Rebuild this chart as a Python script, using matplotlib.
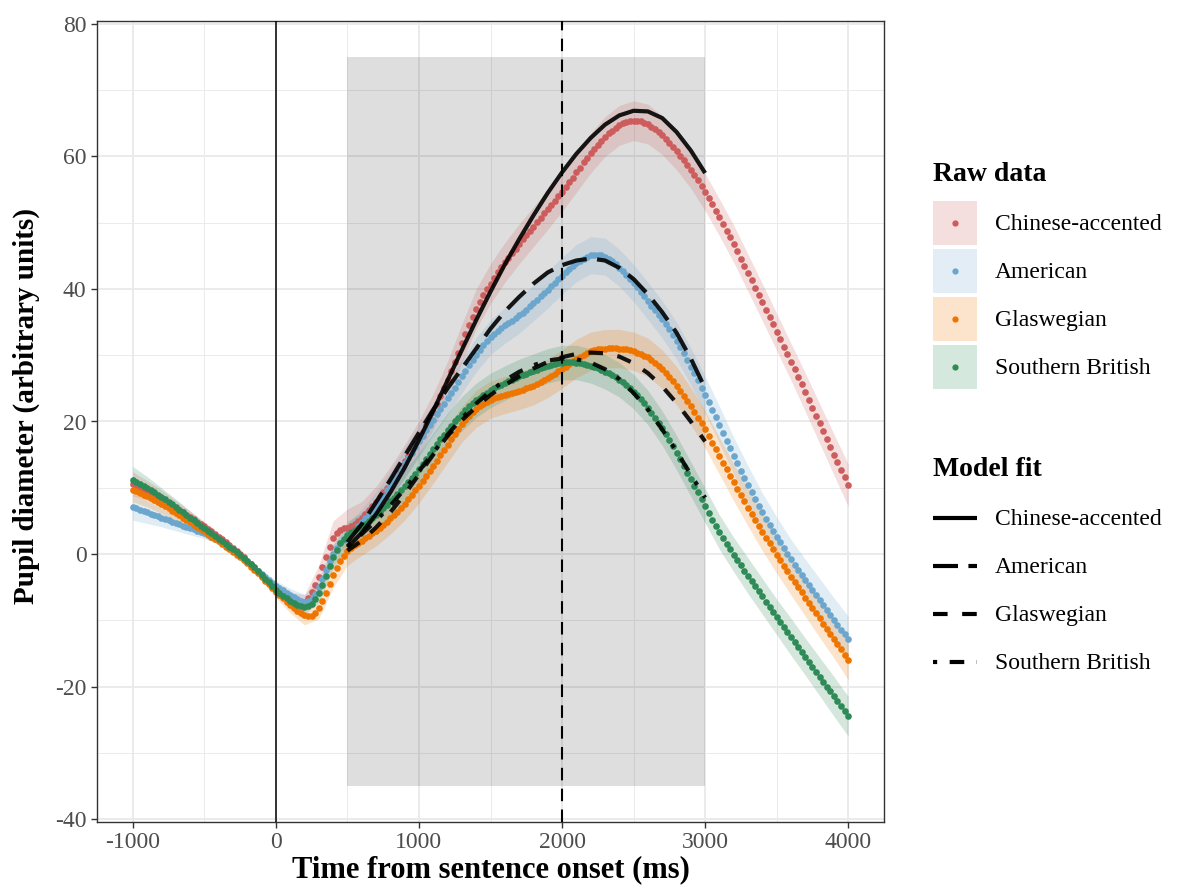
import numpy as np
import matplotlib
matplotlib.use('Agg')
import matplotlib.pyplot as plt
import matplotlib.colors as mcolors
from matplotlib.lines import Line2D
from matplotlib.patches import Rectangle
from matplotlib.legend_handler import HandlerBase

# Raw pupil traces, sampled every 25 ms from -1000 to 4000 ms (one row = 200 ms)
time_ms = np.arange(-1000, 4001, 25)

chinese = [10.6, 10.35, 10.1, 9.85, 9.6, 9.3, 9.0, 8.7,
           8.4, 8.05, 7.7, 7.35, 7.0, 6.65, 6.3, 5.95,
           5.6, 5.25, 4.9, 4.55, 4.2, 3.8, 3.4, 3.0,
           2.6, 2.2, 1.8, 1.35, 0.9, 0.45, 0.0, -0.5,
           -1.0, -1.5, -2.0, -2.55, -3.1, -3.7, -4.3, -4.85,
           -5.4, -5.8, -6.2, -6.5, -6.8, -7.05, -7.3, -7.4,
           -7.3, -6.7, -5.8, -4.7, -3.5, -2.0, -0.4, 1.1,
           2.4, 3.2, 3.6, 3.85, 4.0, 4.25, 4.6, 5.0,
           5.5, 6.0, 6.6, 7.2, 7.9, 8.6, 9.3, 10.0,
           10.8, 11.6, 12.4, 13.2, 14.0, 14.8, 15.7, 16.6,
           17.5, 18.4, 19.4, 20.4, 21.5, 22.6, 23.8, 25.0,
           26.3, 27.6, 29.0, 30.4, 31.8, 33.2, 34.5, 35.8,
           37.0, 38.1, 39.1, 40.0, 40.8, 41.7, 42.5, 43.3,
           44.0, 44.7, 45.4, 46.1, 46.8, 47.5, 48.1, 48.8,
           49.4, 50.1, 50.7, 51.4, 52.0, 52.7, 53.3, 54.0,
           54.7, 55.4, 56.1, 56.8, 57.6, 58.3, 59.1, 59.8,
           60.5, 61.2, 61.8, 62.4, 63.0, 63.5, 63.9, 64.3,
           64.7, 65.0, 65.2, 65.3, 65.4, 65.4, 65.3, 65.1,
           64.9, 64.5, 64.1, 63.7, 63.2, 62.6, 62.0, 61.4,
           60.8, 60.1, 59.4, 58.7, 58.0, 57.2, 56.4, 55.5,
           54.6, 53.7, 52.8, 51.8, 50.8, 49.8, 48.8, 47.8,
           46.8, 45.7, 44.6, 43.5, 42.4, 41.3, 40.2, 39.1,
           38.0, 36.9, 35.8, 34.7, 33.5, 32.4, 31.3, 30.2,
           29.0, 27.9, 26.7, 25.6, 24.4, 23.2, 22.0, 20.9,
           19.7, 18.6, 17.4, 16.2, 15.0, 13.9, 12.7, 11.6,
           10.4]

american = [7.1, 6.9, 6.7, 6.5, 6.3, 6.1, 5.9, 5.7,
            5.5, 5.3, 5.1, 4.9, 4.7, 4.5, 4.3, 4.1,
            3.9, 3.7, 3.5, 3.3, 3.1, 2.85, 2.6, 2.3,
            2.0, 1.7, 1.4, 1.0, 0.6, 0.15, -0.3, -0.75,
            -1.2, -1.65, -2.1, -2.55, -3.0, -3.45, -3.9, -4.35,
            -4.8, -5.15, -5.5, -5.85, -6.2, -6.5, -6.8, -7.05,
            -7.2, -7.1, -6.8, -6.0, -5.0, -3.7, -2.4, -1.1,
            0.0, 0.9, 1.6, 2.15, 2.6, 3.1, 3.6, 4.2,
            4.8, 5.4, 6.0, 6.65, 7.3, 8.05, 8.8, 9.6,
            10.4, 11.2, 12.0, 12.85, 13.7, 14.5, 15.3, 16.15,
            17.0, 17.85, 18.7, 19.5, 20.3, 21.1, 21.9, 22.7,
            23.5, 24.3, 25.1, 25.95, 26.8, 27.65, 28.5, 29.3,
            30.1, 30.8, 31.5, 32.1, 32.7, 33.2, 33.7, 34.1,
            34.5, 34.85, 35.2, 35.6, 36.0, 36.45, 36.9, 37.4,
            37.9, 38.4, 38.9, 39.4, 39.9, 40.4, 40.9, 41.45,
            42.0, 42.5, 43.0, 43.45, 43.9, 44.25, 44.6, 44.9,
            45.1, 45.2, 45.2, 45.1, 44.9, 44.6, 44.2, 43.7,
            43.2, 42.65, 42.1, 41.5, 40.9, 40.25, 39.6, 38.9,
            38.2, 37.5, 36.8, 36.1, 35.4, 34.65, 33.9, 33.05,
            32.2, 31.25, 30.3, 29.3, 28.3, 27.25, 26.2, 25.1,
            24.0, 22.9, 21.8, 20.65, 19.5, 18.3, 17.1, 15.95,
            14.8, 13.7, 12.6, 11.5, 10.4, 9.35, 8.3, 7.3,
            6.3, 5.35, 4.4, 3.5, 2.6, 1.75, 0.9, 0.05,
            -0.8, -1.6, -2.4, -3.15, -3.9, -4.65, -5.4, -6.15,
            -6.9, -7.65, -8.4, -9.15, -9.9, -10.65, -11.4, -12.1,
            -12.8]

glaswegian = [9.7, 9.45, 9.2, 8.95, 8.7, 8.4, 8.1, 7.8,
              7.5, 7.2, 6.9, 6.55, 6.2, 5.85, 5.5, 5.15,
              4.8, 4.45, 4.1, 3.75, 3.4, 3.0, 2.6, 2.25,
              1.9, 1.5, 1.1, 0.7, 0.3, -0.1, -0.5, -0.95,
              -1.4, -1.9, -2.4, -2.9, -3.4, -4.0, -4.6, -5.15,
              -5.7, -6.2, -6.7, -7.2, -7.7, -8.15, -8.6, -8.95,
              -9.2, -9.35, -9.3, -8.9, -8.1, -7.1, -5.9, -4.5,
              -3.2, -2.1, -1.1, -0.3, 0.4, 0.9, 1.3, 1.65,
              2.0, 2.35, 2.7, 3.1, 3.5, 3.95, 4.4, 4.9,
              5.4, 5.9, 6.4, 7.0, 7.6, 8.25, 8.9, 9.6,
              10.3, 11.05, 11.8, 12.55, 13.3, 14.1, 14.9, 15.7,
              16.5, 17.3, 18.1, 18.85, 19.6, 20.3, 20.9, 21.45,
              21.9, 22.3, 22.7, 23.0, 23.3, 23.5, 23.7, 23.85,
              24.0, 24.15, 24.3, 24.45, 24.6, 24.8, 25.0, 25.2,
              25.4, 25.65, 25.9, 26.2, 26.5, 26.85, 27.2, 27.55,
              27.9, 28.3, 28.7, 29.1, 29.5, 29.8, 30.1, 30.4,
              30.6, 30.75, 30.9, 30.95, 31.0, 31.05, 31.1, 31.05,
              31.0, 30.95, 30.9, 30.75, 30.6, 30.4, 30.2, 29.95,
              29.7, 29.3, 28.9, 28.4, 27.9, 27.3, 26.7, 26.05,
              25.4, 24.65, 23.9, 23.1, 22.3, 21.45, 20.6, 19.7,
              18.8, 17.8, 16.8, 15.8, 14.8, 13.8, 12.8, 11.8,
              10.8, 9.85, 8.9, 7.95, 7.0, 6.05, 5.1, 4.2,
              3.3, 2.45, 1.6, 0.75, -0.1, -0.95, -1.8, -2.6,
              -3.4, -4.2, -5.0, -5.8, -6.6, -7.4, -8.2, -8.95,
              -9.7, -10.5, -11.3, -12.05, -12.8, -13.6, -14.4, -15.2,
              -16.0]

southern = [11.2, 10.9, 10.6, 10.3, 10.0, 9.65, 9.3, 8.95,
            8.6, 8.25, 7.9, 7.5, 7.1, 6.7, 6.3, 5.9,
            5.5, 5.1, 4.7, 4.3, 3.9, 3.5, 3.1, 2.7,
            2.3, 1.9, 1.5, 1.1, 0.7, 0.3, -0.1, -0.55,
            -1.0, -1.5, -2.0, -2.55, -3.1, -3.7, -4.3, -4.85,
            -5.4, -5.85, -6.3, -6.7, -7.1, -7.4, -7.7, -7.9,
            -8.0, -7.9, -7.5, -6.8, -5.9, -4.7, -3.3, -1.8,
            -0.5, 0.6, 1.6, 2.3, 2.9, 3.3, 3.6, 3.9,
            4.2, 4.6, 5.0, 5.45, 5.9, 6.4, 6.9, 7.45,
            8.0, 8.5, 9.0, 9.6, 10.2, 10.85, 11.5, 12.15,
            12.8, 13.55, 14.3, 15.05, 15.8, 16.55, 17.3, 18.0,
            18.7, 19.35, 20.0, 20.6, 21.2, 21.75, 22.3, 22.75,
            23.2, 23.6, 24.0, 24.35, 24.7, 25.0, 25.3, 25.55,
            25.8, 26.05, 26.3, 26.55, 26.8, 27.0, 27.2, 27.4,
            27.6, 27.8, 28.0, 28.2, 28.4, 28.55, 28.7, 28.8,
            28.9, 28.95, 29.0, 28.95, 28.9, 28.8, 28.7, 28.55,
            28.4, 28.2, 28.0, 27.75, 27.5, 27.25, 27.0, 26.65,
            26.3, 25.9, 25.5, 25.0, 24.5, 23.95, 23.4, 22.75,
            22.1, 21.35, 20.6, 19.8, 19.0, 18.1, 17.2, 16.25,
            15.3, 14.3, 13.3, 12.3, 11.3, 10.3, 9.3, 8.3,
            7.3, 6.2, 5.1, 4.2, 3.3, 2.4, 1.5, 0.7,
            -0.1, -0.9, -1.7, -2.5, -3.3, -4.1, -4.9, -5.65,
            -6.4, -7.2, -7.95, -8.75, -9.5, -10.25, -11.0, -11.75,
            -12.5, -13.25, -14.0, -14.75, -15.5, -16.25, -17.0, -17.75,
            -18.5, -19.25, -20.0, -20.75, -21.5, -22.25, -23.0, -23.75,
            -24.5]

# Ribbon half-widths, every 100 ms from -1000 to 4000 ms
chinese_se = [1.8, 1.5, 1.3, 1.1, 0.9, 0.7, 0.5, 0.3, 0.4, 0.6, 0.8, 1.0, 1.2, 1.8, 2.6, 2.8, 2.4,
              2.3, 2.4, 2.5, 2.6, 2.7, 2.8, 2.9, 3.0, 3.0, 3.0, 3.0, 3.0, 3.0, 3.0, 3.0, 3.0, 3.0,
              3.0, 3.0, 3.0, 2.9, 2.8, 2.8, 2.8, 2.8, 2.8, 2.8, 2.8, 2.8, 2.8, 2.9, 3.0, 3.1, 3.2]
american_se = [2.0, 1.7, 1.4, 1.2, 1.0, 0.8, 0.5, 0.3, 0.4, 0.6, 0.8, 1.0, 1.1, 1.3, 1.6, 1.8, 2.0,
               2.1, 2.2, 2.3, 2.4, 2.4, 2.5, 2.5, 2.6, 2.6, 2.7, 2.7, 2.7, 2.8, 2.8, 2.8, 2.8, 2.8,
               2.8, 2.8, 2.8, 2.8, 2.8, 2.8, 2.8, 2.8, 2.8, 2.9, 2.9, 3.0, 3.0, 3.1, 3.2, 3.3, 3.4]
glaswegian_se = [1.8, 1.6, 1.4, 1.2, 1.0, 0.8, 0.5, 0.3, 0.4, 0.6, 0.9, 1.2, 1.5, 1.7, 1.9, 2.1, 2.2,
                 2.3, 2.4, 2.5, 2.6, 2.6, 2.7, 2.7, 2.8, 2.8, 2.8, 2.8, 2.9, 2.9, 2.9, 2.9, 2.9, 2.9,
                 2.9, 2.9, 2.9, 2.9, 2.9, 2.8, 2.8, 2.8, 2.8, 2.8, 2.8, 2.8, 2.8, 2.8, 2.9, 2.9, 3.0]
southern_se = [2.0, 1.7, 1.4, 1.2, 1.0, 0.8, 0.5, 0.3, 0.4, 0.6, 0.8, 1.0, 1.1, 1.4, 1.8, 2.0, 2.1,
               2.2, 2.3, 2.4, 2.5, 2.5, 2.6, 2.6, 2.6, 2.6, 2.6, 2.6, 2.6, 2.6, 2.6, 2.6, 2.6, 2.6,
               2.6, 2.6, 2.6, 2.6, 2.6, 2.6, 2.6, 2.6, 2.6, 2.7, 2.7, 2.7, 2.8, 2.8, 2.9, 3.0, 3.0]

# Model fits, every 100 ms from 500 to 3000 ms
fit_time = np.arange(500, 3001, 100)
fit_chinese = [1.0, 3.2, 6.0, 9.3, 13.0, 17.2, 21.6, 26.2, 30.8, 35.3, 39.6, 43.7, 47.5, 51.1,
               54.5, 57.6, 60.4, 62.8, 64.8, 66.2, 66.9, 66.8, 65.8, 63.7, 60.9, 57.5]
fit_american = [1.8, 4.5, 7.8, 11.2, 14.8, 18.3, 21.8, 25.0, 28.0, 31.0, 34.0, 36.6, 38.8, 40.8,
                42.5, 43.6, 44.3, 44.6, 44.3, 43.2, 41.5, 39.2, 36.5, 33.4, 29.5, 25.0]
fit_glaswegian = [0.5, 2.0, 4.0, 6.3, 9.0, 12.0, 15.0, 17.8, 20.2, 22.2, 24.0, 25.5, 26.8, 28.0,
                  29.0, 29.7, 30.2, 30.4, 30.3, 29.8, 28.8, 27.3, 25.3, 22.8, 20.0, 17.0]
fit_southern = [1.2, 3.0, 5.0, 7.3, 9.8, 12.5, 15.3, 18.0, 20.5, 22.7, 24.6, 26.2, 27.5, 28.5,
                29.2, 29.5, 29.4, 28.9, 27.9, 26.4, 24.3, 21.8, 18.8, 15.5, 12.0, 8.5]

labels = ['Chinese-accented', 'American', 'Glaswegian', 'Southern British']
colors = ['#CD5C5C', '#6CA6CD', '#EE7600', '#2E8B57']
raw_series = [chinese, american, glaswegian, southern]
se_series = [chinese_se, american_se, glaswegian_se, southern_se]
fit_series = [fit_chinese, fit_american, fit_glaswegian, fit_southern]
fit_dashes = [None, (6, 2.5), (3.5, 3.5), (1, 3, 3.5, 3)]


def light(c, a=0.2):
    """Colour of a ribbon with alpha a seen on white."""
    rgb = np.array(mcolors.to_rgb(c))
    return tuple(1 - a * (1 - rgb))


class KeyHandler(HandlerBase):
    """ggplot-like legend key: filled box with a centred dot, or a centred line."""

    def __init__(self, color=None, dashes=None):
        super().__init__()
        self.color = color
        self.dashes = dashes

    def create_artists(self, legend, orig_handle, xdescent, ydescent, width, height,
                       fontsize, trans):
        cy = height / 2 - ydescent
        if self.color is not None:
            box = Rectangle((-xdescent, -ydescent), width, height,
                            facecolor=light(self.color), lw=0, transform=trans)
            dot = Line2D([width / 2 - xdescent], [cy], marker='o', ms=4.5, color=self.color,
                         ls='', mec='none', transform=trans)
            return [box, dot]
        ln = Line2D([-xdescent, width - xdescent], [cy, cy], color='black', lw=3,
                    solid_capstyle='butt', transform=trans)
        if self.dashes is not None:
            ln.set_dashes(self.dashes)
            ln.set_dash_capstyle('butt')
        return [ln]


def plot_pupil(out_file='out.png'):
    plt.rcParams['font.family'] = ['Liberation Serif', 'DejaVu Serif']
    plt.rcParams['axes.unicode_minus'] = False
    fig = plt.figure(figsize=(11.8, 8.94), dpi=100)
    ax = fig.add_axes([97 / 1180, 1 - 822 / 894, (884 - 97) / 1180, (822 - 21) / 894])

    # Analysis window and reference lines
    ax.fill_between([500, 3000], -35, 75, color='black', alpha=0.13, lw=0, zorder=1)
    ax.axvline(0, color='black', lw=1.1, zorder=5)
    ax.axvline(2000, color='black', lw=1.5, linestyle=(0, (6, 4)), zorder=5)

    # Confidence ribbons then raw points
    t_se = time_ms[::4]
    for vals, se, c in zip(raw_series, se_series, colors):
        v = np.array(vals)[::4]
        s = np.array(se)
        ax.fill_between(t_se, v - s, v + s, color=c, alpha=0.2, lw=0, zorder=2)
    for vals, c in zip(raw_series, colors):
        ax.plot(time_ms, vals, 'o', color=c, ms=4.8, mec='none', zorder=3)

    # Model fits on top
    for vals, d in zip(fit_series, fit_dashes):
        line, = ax.plot(fit_time, vals, color='black', lw=3, alpha=0.9, zorder=4,
                        solid_capstyle='butt')
        if d is not None:
            line.set_dashes(d)
            line.set_dash_capstyle('butt')

    ax.set_xlim(-1250, 4250)
    ax.set_ylim(-40.45, 80.45)
    ax.set_xticks([-1000, 0, 1000, 2000, 3000, 4000])
    ax.set_yticks([-40, -20, 0, 20, 40, 60, 80])
    ax.set_xticks([-500, 500, 1500, 2500, 3500], minor=True)
    ax.set_yticks([-30, -10, 10, 30, 50, 70], minor=True)
    ax.grid(True, which='major', color='#EBEBEB', lw=1.4, zorder=0)
    ax.grid(True, which='minor', color='#EBEBEB', lw=0.7, zorder=0)
    ax.set_axisbelow(True)
    ax.tick_params(which='major', length=4, width=1, color='#333333', labelsize=17,
                   labelcolor='#4D4D4D')
    ax.tick_params(which='minor', length=0)
    for sp in ax.spines.values():
        sp.set_color('#333333')
        sp.set_linewidth(1)

    ax.set_xlabel('Time from sentence onset (ms)', fontsize=22, fontweight='bold', labelpad=1)
    ax.set_ylabel('Pupil diameter (arbitrary units)', fontsize=21, fontweight='bold')
    ax.yaxis.set_label_coords(-0.073, 0.519)

    # Legends: light square key with a dot for raw data, black line for model fit
    raw_handles = [Line2D([], [], color=c) for c in colors]
    fit_handles = [Line2D([], [], color='black') for _ in fit_dashes]
    raw_map = {h: KeyHandler(color=c) for h, c in zip(raw_handles, colors)}
    fit_map = {h: KeyHandler(dashes=d) for h, d in zip(fit_handles, fit_dashes)}

    common = dict(loc='upper left', frameon=False, fontsize=17, handlelength=1.86,
                  handleheight=2.49, labelspacing=0.17, handletextpad=0.76, borderpad=0,
                  borderaxespad=0, alignment='left',
                  title_fontproperties={'size': 20, 'weight': 'bold'})
    leg1 = fig.legend(raw_handles, labels, title='Raw data', handler_map=raw_map,
                      bbox_to_anchor=(933 / 1180, 1 - 162 / 894), **common)
    leg2 = fig.legend(fit_handles, labels, title='Model fit', handler_map=fit_map,
                      bbox_to_anchor=(933 / 1180, 1 - 457 / 894), **common)
    for leg in (leg1, leg2):
        leg._legend_box.sep = 10

    fig.savefig(out_file, dpi=100)


if __name__ == '__main__':
    plot_pupil()
